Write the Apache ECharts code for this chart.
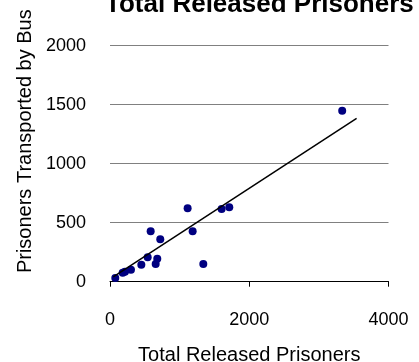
<!DOCTYPE html>
<html>
<head>
<meta charset="utf-8">
<script src="https://cdn.jsdelivr.net/npm/echarts@6/dist/echarts.min.js"></script>
<style>
  html, body { margin: 0; padding: 0; background: #fff; }
  #chart { width: 419px; height: 362px; }
</style>
</head>
<body>
<div id="chart"></div>
<script>
// data
const releasedPrisoners = [76, 182, 215, 301, 450, 541, 584, 656, 679, 722, 1115, 1187, 1340, 1603, 1713, 3335];
const busPrisoners = [31, 76, 85, 102, 144, 207, 427, 150, 195, 359, 622, 427, 150, 616, 630, 1449];
// trendline end points
const trendX = [47, 3542];
const trendY = [40, 1385];

const font = 'Liberation Sans, Arial, sans-serif';

const chart = echarts.init(document.getElementById('chart'));
chart.setOption({
    animation: false,
    title: {
        text: 'Total Released Prisoners',
        left: 100,
        top: -13,
        textStyle: {
            fontFamily: font,
            fontSize: 26,
            fontWeight: 'bold',
            color: '#000'
        }
    },
    grid: {
        left: 110,
        right: 30.5,
        top: 45.7,
        bottom: 80.3,
        containLabel: false,
        outerBoundsMode: 'none'
    },
    xAxis: {
        type: 'value',
        min: 0,
        max: 4000,
        interval: 2000,
        name: 'Total Released Prisoners',
        nameLocation: 'middle',
        nameGap: 64,
        nameTextStyle: { fontFamily: font, fontSize: 20, color: '#000' },
        axisLine: { show: true, lineStyle: { color: '#000', width: 1 } },
        axisTick: { show: true, inside: false, length: 5, lineStyle: { color: '#000' } },
        axisLabel: { margin: 29, fontFamily: font, fontSize: 18, color: '#000', formatter: v => String(v) },
        splitLine: { show: false }
    },
    yAxis: {
        type: 'value',
        min: 0,
        max: 2000,
        interval: 500,
        name: 'Prisoners Transported by Bus',
        nameLocation: 'middle',
        nameGap: 70,
        nameTextStyle: { fontFamily: font, fontSize: 20, color: '#000', padding: [0, 0, 0, 45] },
        axisLine: { show: false },
        axisTick: { show: false },
        axisLabel: { margin: 24, fontFamily: font, fontSize: 18, color: '#000', formatter: v => String(v) },
        splitLine: { show: true, lineStyle: { color: '#808080', width: 1 } }
    },
    series: [
        {
            type: 'scatter',
            symbolSize: 8,
            itemStyle: { color: '#000080', opacity: 1 },
            data: releasedPrisoners.map((x, i) => [x, busPrisoners[i]])
        },
        {
            type: 'line',
            symbol: 'none',
            lineStyle: { color: '#000', width: 1.5 },
            data: trendX.map((x, i) => [x, trendY[i]])
        }
    ]
});
</script>
</body>
</html>
